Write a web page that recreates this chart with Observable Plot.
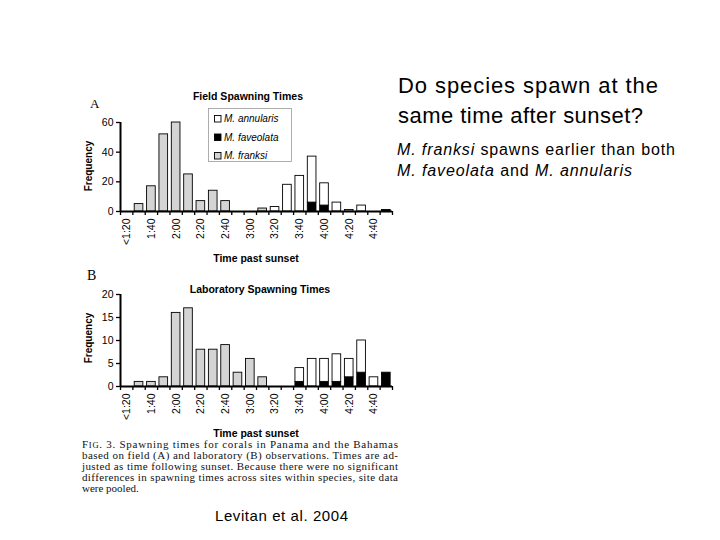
<!DOCTYPE html>
<html><head><meta charset="utf-8">
<script src="https://cdn.jsdelivr.net/npm/d3@7"></script>
<script src="https://cdn.jsdelivr.net/npm/@observablehq/plot@0.6"></script>
<style>
body{margin:0;background:#fff;}
#page{position:relative;width:720px;height:540px;overflow:hidden;font-family:"Liberation Sans",Arial,sans-serif;background:#fff;}
#page > svg{position:absolute;}
</style></head><body><div id="page"></div>
<script>
const bins = ["<1:20","1:30","1:40","1:50","2:00","2:10","2:20","2:30","2:40","2:50","3:00","3:10","3:20","3:30","3:40","3:50","4:00","4:10","4:20","4:30","4:40","4:50"];
const tickLabels = ["<1:20","1:40","2:00","2:20","2:40","3:00","3:20","3:40","4:00","4:20","4:40"];
const species = ["M. faveolata","M. annularis","M. franksi"];
const speciesColors = ["#000000","#ffffff","#d4d4d4"];

// A: field observations (stacked segment values)
const fieldFaveolata = [0,0,0,0,0,0,0,0,0,0,0,0,0,0,0,6,4,0,0,0,0,1];
const fieldAnnularis = [0,0,0,0,0,0,0,0,0,0,0,0,3,18,24,31,15,6,1,4,0,0];
const fieldFranksi   = [0,5,17,52,60,25,7,14,7,0,0,2,0,0,0,0,0,0,0,0,0,0];
const fieldYTicks = [0,20,40,60];

// B: laboratory observations
const labFaveolata = [0,0,0,0,0,0,0,0,0,0,0,0,0,0,1,0,1,1,2,3,0,3];
const labAnnularis = [0,0,0,0,0,0,0,0,0,0,0,0,0,0,3,6,5,6,4,7,2,0];
const labFranksi   = [0,1,1,2,16,17,8,8,9,3,6,2,0,0,0,0,0,0,0,0,0,0];
const labYTicks = [0,5,10,15,20];

function toRows(fav, ann, fra) {
  const rows = [];
  [[species[0], fav], [species[1], ann], [species[2], fra]].forEach(([s, vals]) =>
    vals.forEach((v, i) => { if (v > 0) rows.push({bin: bins[i], i, species: s, value: v}); }));
  return rows;
}

const boundaries = d3.range(bins.length + 1).map(k => k - 0.5);
const labelIdx = tickLabels.map(t => bins.indexOf(t));

function chart(rows, yTicks, height, mt, mb) {
  return Plot.plot({
    width: 400, height, marginLeft: 120, marginRight: 8, marginTop: mt, marginBottom: mb,
    style: {fontFamily: "'Liberation Sans', Arial, sans-serif", fontSize: "10px", color: "#000", background: "transparent", overflow: "visible"},
    x: {type: "linear", domain: [-0.5, bins.length - 0.5], axis: null},
    y: {domain: [0, d3.max(yTicks)], axis: null},
    color: {domain: species, range: speciesColors},
    marks: [
      Plot.rectY(rows, {x1: d => d.i - 0.35, x2: d => d.i + 0.35, y: "value", fill: "species", stroke: "#000", strokeWidth: 0.9}),
      Plot.axisY(yTicks, {tickSize: 4, tickPadding: 3, label: null, fontSize: 10.5, strokeWidth: 1.3}),
      Plot.axisX(boundaries, {tickSize: 4, tickFormat: () => "", label: null, strokeWidth: 1.3}),
      Plot.axisX(labelIdx, {tickSize: 0, tickPadding: 7, tickRotate: -90, tickFormat: i => bins[i], label: null, fontSize: 10.5}),
      Plot.ruleY([0], {strokeWidth: 2}),
      Plot.ruleX([-0.5], {strokeWidth: 2})
    ]
  });
}

const page = document.getElementById("page");
const A = chart(toRows(fieldFaveolata, fieldAnnularis, fieldFranksi), fieldYTicks, 180, 42, 49);
A.style.left = "0px"; A.style.top = "80px";
page.append(A);
const B = chart(toRows(labFaveolata, labAnnularis, labFranksi), labYTicks, 180, 34, 54);
B.style.left = "0px"; B.style.top = "260px";
page.append(B);

// annotation overlay
const svg = d3.select(page).append("svg").attr("width", 720).attr("height", 540)
  .style("left", "0px").style("top", "0px").style("pointer-events", "none");
const sans = "'Liberation Sans', Arial, sans-serif";
const serif = "'Liberation Serif', 'Times New Roman', serif";
function txt(x, y, s, o = {}) {
  const t = svg.append("text").attr("x", x).attr("y", y)
    .attr("font-family", o.family || sans).attr("font-size", o.size || 10)
    .attr("font-weight", o.weight || "normal").attr("font-style", o.style || "normal")
    .attr("text-anchor", o.anchor || "start").attr("fill", "#000");
  if (o.len) t.attr("textLength", o.len).attr("lengthAdjust", "spacing");
  if (o.rotate) t.attr("transform", `rotate(${o.rotate},${x},${y})`);
  if (Array.isArray(s)) s.forEach(([str, st]) => t.append("tspan").attr("font-style", st || "normal").text(str));
  else t.text(s);
  return t;
}

// Panel A
txt(90, 108, "A", {family: serif, size: 13});
txt(248, 100, "Field Spawning Times", {size: 10.5, weight: "bold", anchor: "middle"});
txt(91.5, 166, "Frequency", {size: 10, weight: "bold", anchor: "middle", rotate: -90});
txt(256, 262, "Time past sunset", {size: 10.5, weight: "bold", anchor: "middle"});
// legend
svg.append("rect").attr("x", 208.5).attr("y", 108.5).attr("width", 83).attr("height", 53)
  .attr("fill", "#fff").attr("stroke", "#999").attr("stroke-width", 0.8);
const legendOrder = [species[1], species[0], species[2]];
const legendText = ["M. annularis", "M. faveolata", "M. franksi"];
legendOrder.forEach((s, k) => {
  const y = 115 + k * 18.5;
  svg.append("rect").attr("x", 214.5).attr("y", y + 0.5).attr("width", 6.5).attr("height", 6.5)
    .attr("fill", speciesColors[species.indexOf(s)]).attr("stroke", "#000").attr("stroke-width", 0.9);
  txt(224, y + 7, legendText[k], {size: 10, style: "italic"});
});

// Panel B
txt(87, 280, "B", {family: serif, size: 14});
txt(260, 293, "Laboratory Spawning Times", {size: 10.5, weight: "bold", anchor: "middle"});
txt(91.5, 338, "Frequency", {size: 10, weight: "bold", anchor: "middle", rotate: -90});
txt(256, 437, "Time past sunset", {size: 10.5, weight: "bold", anchor: "middle"});

// caption
const capLines = [
  [["F", ""], ["IG", "sc"], [". 3.   Spawning times for corals in Panama and the Bahamas", ""]],
  "based on field (A) and laboratory (B) observations. Times are ad-",
  "justed as time following sunset. Because there were no significant",
  "differences in spawning times across sites within species, site data",
  "were pooled."
];
capLines.forEach((line, k) => {
  const y = 448 + k * 11;
  const t = svg.append("text").attr("x", 82).attr("y", y).attr("font-family", serif)
    .attr("font-size", 11).attr("fill", "#111");
  if (k < 4) t.attr("textLength", 316).attr("lengthAdjust", "spacing");
  if (Array.isArray(line)) line.forEach(([s, st]) => {
    const ts = t.append("tspan").text(s);
    if (st === "sc") ts.attr("font-size", 8.5);
  });
  else t.text(line);
});
txt(215, 521, "Levitan et al. 2004", {size: 15, len: 133});

// right-side text
txt(398, 93, "Do species spawn at the", {size: 22, len: 260});
txt(398, 123, "same time after sunset?", {size: 22, len: 245});
txt(397, 155, [["M. franksi", "italic"], [" spawns earlier than both", "normal"]], {size: 16, len: 278});
txt(397, 176, [["M. faveolata", "italic"], [" and ", "normal"], ["M. annularis", "italic"]], {size: 16, len: 235});
</script></body></html>
